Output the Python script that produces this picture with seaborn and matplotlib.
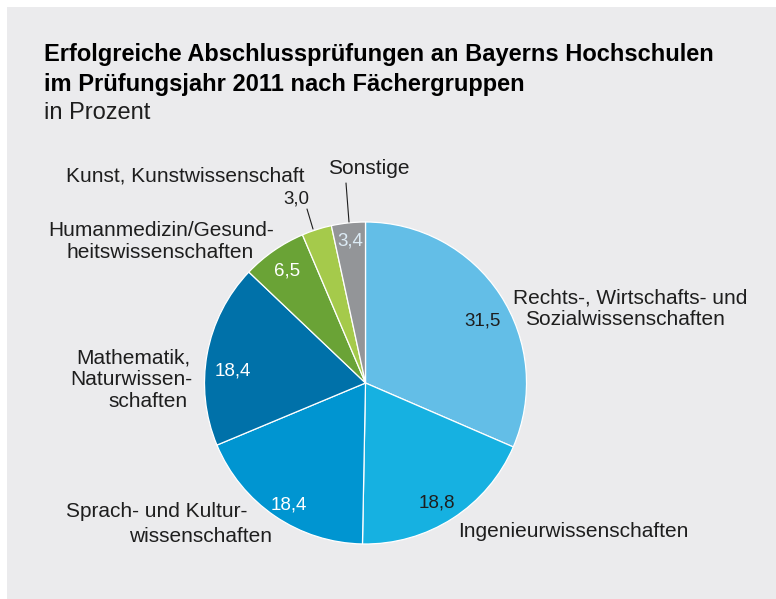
import matplotlib
matplotlib.use("Agg")
import matplotlib.pyplot as plt
import seaborn as sns
from matplotlib.patches import Rectangle

# data
categories = [
    "Rechts-, Wirtschafts- und\nSozialwissenschaften",
    "Ingenieurwissenschaften",
    "Sprach- und Kultur-\nwissenschaften",
    "Mathematik,\nNaturwissen-\nschaften",
    "Humanmedizin/Gesund-\nheitswissenschaften",
    "Kunst, Kunstwissenschaft",
    "Sonstige",
]
shares = [31.5, 18.8, 18.4, 18.4, 6.5, 3.0, 3.4]
colors = ["#63bee7", "#16b1e1", "#0095d1", "#0071a9", "#6aa336", "#a5ca4b", "#939598"]
value_colors = ["#1e1e1e", "#1e1e1e", "white", "white", "white", "#1e1e1e", "#dcebf5"]

title = "Erfolgreiche Abschlussprüfungen an Bayerns Hochschulen\nim Prüfungsjahr 2011 nach Fächergruppen"
subtitle = "in Prozent"

W, H = 776, 599
BG = "#ebebed"
TXT = "#1e1e1e"


def Y(y):
    # pixel row (from top) -> data y
    return H - y


def main():
    sns.set_theme(style="white")
    plt.rcParams["font.family"] = ["Liberation Sans", "DejaVu Sans"]

    fig = plt.figure(figsize=(W / 100, H / 100), dpi=100)
    fig.patches.append(Rectangle((7 / W, 0), 1, (H - 7) / H, transform=fig.transFigure,
                                 facecolor=BG, edgecolor="none", zorder=-10))

    ax = fig.add_axes([0, 0, 1, 1])
    ax.set_facecolor("none")
    ax.set_zorder(5)

    cx, cy, r = 365.5, 383, 161
    ax.pie(shares, colors=colors, startangle=90, counterclock=False,
           center=(cx, Y(cy)), radius=r,
           wedgeprops=dict(edgecolor="white", linewidth=0.9))

    ax.set_xlim(0, W)
    ax.set_ylim(0, H)
    ax.set_aspect("equal")
    ax.axis("off")

    # title block
    ax.text(44, Y(61), title.split("\n")[0], fontsize=17, fontweight="bold", color="black", va="baseline")
    ax.text(44, Y(91), title.split("\n")[1], fontsize=17, fontweight="bold", color="black", va="baseline")
    ax.text(44, Y(119), subtitle, fontsize=17, color=TXT, va="baseline")

    # value labels (centre x, baseline)
    value_pos = [(483, 326), (437, 508), (289, 509), (233, 375), (287, 275), (309, 203), (350, 246)]
    value_ha = ["center", "center", "center", "center", "center", "right", "center"]
    for v, (x, y), c, ha in zip(shares, value_pos, value_colors, value_ha):
        ax.text(x, Y(y), f"{v:.1f}".replace(".", ","), fontsize=13.5, color=c,
                ha=ha, va="baseline")

    # category labels, one line at a time (x, baseline, alignment)
    lab_lines = [
        [(630, 303, "center"), (625, 325, "center")],
        [(458, 537, "left")],
        [(247, 517, "right"), (272, 542, "right")],
        [(190, 363, "right"), (192, 385, "right"), (188, 407, "right")],
        [(161, 236, "center"), (160, 258, "center")],
        [(305, 181, "right")],
        [(328, 174, "left")],
    ]
    for cat, lines in zip(categories, lab_lines):
        for txt, (x, y, ha) in zip(cat.split("\n"), lines):
            ax.text(x, Y(y), txt, fontsize=15, color=TXT, ha=ha, va="baseline")

    # leader lines for the two small slices
    ax.plot([307, 313], [Y(209), Y(229)], color=TXT, lw=0.8)
    ax.plot([346, 349], [Y(183), Y(222)], color=TXT, lw=0.8)

    fig.savefig("out.png", dpi=100, facecolor="white")
    plt.close(fig)


if __name__ == "__main__":
    main()
